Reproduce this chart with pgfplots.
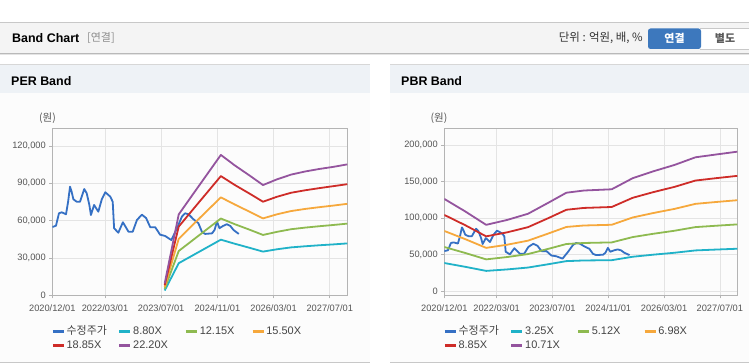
\documentclass[border=0pt]{standalone}
\usepackage{fontspec}
\setmainfont{Liberation Sans}
\newfontfamily\kr{Noto Sans CJK KR}
\usepackage{pgfplots}
\pgfplotsset{compat=1.18}
\definecolor{gridc}{HTML}{E4E4E4}
\definecolor{axisc}{HTML}{B4B4B4}
\definecolor{tickc}{HTML}{555555}
\definecolor{legc}{HTML}{444444}
\definecolor{cprice}{HTML}{3570C4}
\definecolor{cteal}{HTML}{20B2C8}
\definecolor{cgreen}{HTML}{8EBA50}
\definecolor{corange}{HTML}{F6A83C}
\definecolor{cred}{HTML}{CE2C28}
\definecolor{cpurple}{HTML}{94549E}
\definecolor{hdrbg}{HTML}{F4F4F4}
\definecolor{panbg}{HTML}{EEF2F6}
\definecolor{btnblue}{HTML}{3D78BD}
\pgfplotsset{
  bandaxis/.style={
    scale only axis, anchor=south west, height=167bp,
    xmin=0, xmax=84,
    xtick={0,15,31,47,63,79},
    xticklabels={2020/12/01,2022/03/01,2023/07/01,2024/11/01,2026/03/01,2027/07/01},
    grid=major, major grid style={draw=gridc, line width=0.6bp},
    axis line style={draw=axisc, line width=0.8bp},
    tick style={draw=axisc, line width=0.6bp}, tick align=outside, major tick length=3bp,
    xtick pos=bottom, ytick pos=left,
    tick label style={font=\fontsize{9.3}{10}\selectfont, text=tickc},
    xticklabel style={yshift=-2.5bp},
    scaled y ticks=false,
    /pgf/number format/fixed, /pgf/number format/precision=0,
    /pgf/number format/1000 sep={,}, /pgf/number format/assume math mode=true,
    legend columns=4, legend cell align=left,
    legend style={draw=none, fill=none, at={(0,0)}, anchor=north west, xshift=-1bp, yshift=-29bp,
      inner sep=0pt, font=\fontsize{11}{12}\selectfont, text=legc,
      nodes={inner xsep=1.5bp, inner ysep=1.5bp, text height=8.5bp, text depth=2.5bp}},
    legend image code/.code={\draw[##1,line width=2.6bp] (0bp,0bp) -- (11bp,0bp);},
    every axis plot/.append style={line width=1.8bp, line join=round},
  }
}
\newcommand{\lgx}[1]{\makebox[50bp][l]{#1}}
\begin{document}
\begin{tikzpicture}
\useasboundingbox (0,0) rectangle (749bp,364bp);
\fill[white] (0,0) rectangle (749bp,364bp);
% header
\fill[hdrbg] (0,311bp) rectangle (749bp,342bp);
\draw[color={rgb,255:red,200;green,200;blue,200}, line width=0.8bp] (0,342bp) -- (749bp,342bp);
\draw[color={rgb,255:red,185;green,185;blue,185}, line width=0.8bp] (0,311bp) -- (749bp,311bp);
\draw[color={rgb,255:red,228;green,228;blue,228}, line width=1bp] (0,309.8bp) -- (749bp,309.8bp);
\node[anchor=west, inner sep=0pt, font=\fontsize{12.5}{14}\selectfont\bfseries] at (12bp,326bp) {Band Chart};
\node[anchor=west, inner sep=0pt, font=\fontsize{11}{13}\selectfont\kr, text={rgb,255:red,140;green,140;blue,140}] at (87bp,326bp) {[연결]};
\node[anchor=east, inner sep=0pt, font=\fontsize{11.5}{13}\selectfont\kr, text={rgb,255:red,51;green,51;blue,51}] at (643bp,326bp) {단위 : 억원, 배, \%};
\fill[white] (700bp,315bp) rectangle (749bp,335.5bp);
\draw[color={rgb,255:red,200;green,200;blue,200}, line width=0.7bp] (700bp,315bp) -- (749bp,315bp) (700bp,335.5bp) -- (749bp,335.5bp);
\fill[btnblue, rounded corners=2.5bp] (648bp,315bp) rectangle (701bp,335.5bp);
\node[font=\fontsize{11}{12}\selectfont\kr\bfseries, text=white, inner sep=0pt] at (674.5bp,325.3bp) {연결};
\node[font=\fontsize{11}{12}\selectfont\kr\bfseries, text={rgb,255:red,90;green,90;blue,90}, inner sep=0pt] at (725bp,325.3bp) {별도};
% panels
\foreach \xa/\xb in {0/370,390/749} {
  \fill[color={rgb,255:red,252;green,252;blue,252}] (\xa bp,1.5bp) rectangle (\xb bp,271bp);
  \fill[panbg] (\xa bp,271bp) rectangle (\xb bp,299.5bp);
  \draw[color={rgb,255:red,215;green,215;blue,215}, line width=0.8bp] (\xa bp,299.5bp) -- (\xb bp,299.5bp);
  \draw[color={rgb,255:red,200;green,200;blue,200}, line width=1bp] (\xa bp,1.5bp) -- (\xb bp,1.5bp);
}
\node[anchor=west, inner sep=0pt, font=\fontsize{12.5}{14}\selectfont\bfseries] at (11bp,283.3bp) {PER Band};
\node[anchor=west, inner sep=0pt, font=\fontsize{12.5}{14}\selectfont\bfseries] at (401bp,283.3bp) {PBR Band};
\node[inner sep=0pt, font=\fontsize{10.5}{12}\selectfont\kr, text=tickc] at (47.5bp,246bp) {(원)};
\node[inner sep=0pt, font=\fontsize{10.5}{12}\selectfont\kr, text=tickc] at (439bp,246bp) {(원)};

% PER band
\begin{axis}[bandaxis, at={(52.3bp,68.7bp)}, width=295bp,
  ymin=0, ymax=134200, ytick={0,30000,60000,90000,120000}]
\addplot[cprice] coordinates {(0,55100) (0.3,55100) (1.05,55950) (1.9,65900) (2.7,66700) (3.9,65100) (4.5,75200) (5.05,87300) (5.5,83300) (6.0,77200) (6.95,75200) (7.9,75200) (9.1,85400) (9.8,82000) (10.55,72600) (11.0,64500) (11.9,72600) (13.1,67200) (14.1,77200) (15.1,82800) (16.5,79300) (17.2,75200) (17.6,53900) (18.8,50300) (20.1,58700) (21.7,51100) (22.9,51100) (24.1,60500) (25.5,64800) (26.7,62100) (27.9,54700) (29.3,54700) (30.7,48700) (32.1,47700) (33.9,44400) (35.5,53900) (36.9,63200) (37.8,65900) (38.8,65100) (40.2,61100) (41.6,57900) (42.6,51100) (43.5,49300) (45.5,49800) (46.2,52500) (46.9,59200) (47.6,53900) (48.6,55700) (49.7,57100) (50.7,55700) (51.6,52500) (53.1,49300)};
\addlegendentry{\lgx{\kr 수정주가}}
\addplot[cteal] coordinates {(32,3800) (36,25800) (40,32100) (44,38400) (48,44700) (52,41400) (56,38300) (60,35100) (64,37000) (68,38500) (72,39400) (76,40200) (80,40900) (84,41700)};
\addlegendentry{\lgx{8.80X}}
\addplot[cgreen] coordinates {(32,5200) (36,35600) (40,44300) (44,53000) (48,61700) (52,57100) (56,52900) (60,48500) (64,51000) (68,53100) (72,54400) (76,55500) (80,56500) (84,57600)};
\addlegendentry{\lgx{12.15X}}
\addplot[corange] coordinates {(32,6700) (36,45400) (40,56600) (44,67700) (48,78700) (52,72900) (56,67400) (60,61800) (64,65100) (68,67700) (72,69400) (76,70800) (80,72100) (84,73500)};
\addlegendentry{\lgx{15.50X}}
\addplot[cred] coordinates {(32,8100) (36,55200) (40,68800) (44,82300) (48,95800) (52,88600) (56,82000) (60,75200) (64,79200) (68,82400) (72,84400) (76,86100) (80,87700) (84,89300)};
\addlegendentry{\lgx{18.85X}}
\addplot[cpurple] coordinates {(32,9500) (36,65000) (40,81000) (44,96900) (48,112800) (52,104300) (56,96600) (60,88600) (64,93200) (68,97000) (72,99500) (76,101500) (80,103200) (84,105200)};
\addlegendentry{\lgx{22.20X}}
\end{axis}

% PBR band
\begin{axis}[bandaxis, at={(444.3bp,68.7bp)}, width=293bp,
  ymin=-5900, ymax=223300, ytick={0,50000,100000,150000,200000}]
\addplot[cprice] coordinates {(0,55100) (0.3,55100) (1.05,55950) (1.9,65900) (2.7,66700) (3.9,65100) (4.5,75200) (5.05,87300) (5.5,83300) (6.0,77200) (6.95,75200) (7.9,75200) (9.1,85400) (9.8,82000) (10.55,72600) (11.0,64500) (11.9,72600) (13.1,67200) (14.1,77200) (15.1,82800) (16.5,79300) (17.2,75200) (17.6,53900) (18.8,50300) (20.1,58700) (21.7,51100) (22.9,51100) (24.1,60500) (25.5,64800) (26.7,62100) (27.9,54700) (29.3,54700) (30.7,48700) (32.1,47700) (33.9,44400) (35.5,53900) (36.9,63200) (37.8,65900) (38.8,65100) (40.2,61100) (41.6,57900) (42.6,51100) (43.5,49300) (45.5,49800) (46.2,52500) (46.9,59200) (47.6,53900) (48.6,55700) (49.7,57100) (50.7,55700) (51.6,52500) (53.1,49300)};
\addlegendentry{\lgx{\kr 수정주가}}
\addplot[cteal] coordinates {(0,38400) (6,33200) (12,27600) (18,29600) (24,32200) (30,36900) (35,41000) (40,41900) (48,42300) (54,47000) (60,49900) (66,52500) (72,55700) (78,56900) (84,58000)};
\addlegendentry{\lgx{3.25X}}
\addplot[cgreen] coordinates {(0,60400) (6,52200) (12,43400) (18,46600) (24,50700) (30,58100) (35,64500) (40,65900) (48,66700) (54,74000) (60,78600) (66,82700) (72,87700) (78,89600) (84,91400)};
\addlegendentry{\lgx{5.12X}}
\addplot[corange] coordinates {(0,82400) (6,71200) (12,59200) (18,63500) (24,69100) (30,79200) (35,87900) (40,89900) (48,90900) (54,100900) (60,107100) (66,112700) (72,119600) (78,122200) (84,124600)};
\addlegendentry{\lgx{6.98X}}
\addplot[cred] coordinates {(0,104400) (6,90300) (12,75000) (18,80500) (24,87600) (30,100400) (35,111500) (40,114000) (48,115300) (54,127900) (60,135800) (66,142900) (72,151600) (78,154900) (84,158000)};
\addlegendentry{\lgx{8.85X}}
\addplot[cpurple] coordinates {(0,126400) (6,109200) (12,90800) (18,97500) (24,106000) (30,121600) (35,134900) (40,137900) (48,139600) (54,154800) (60,164400) (66,173000) (72,183500) (78,187400) (84,191200)};
\addlegendentry{\lgx{10.71X}}
\end{axis}
\end{tikzpicture}
\end{document}
